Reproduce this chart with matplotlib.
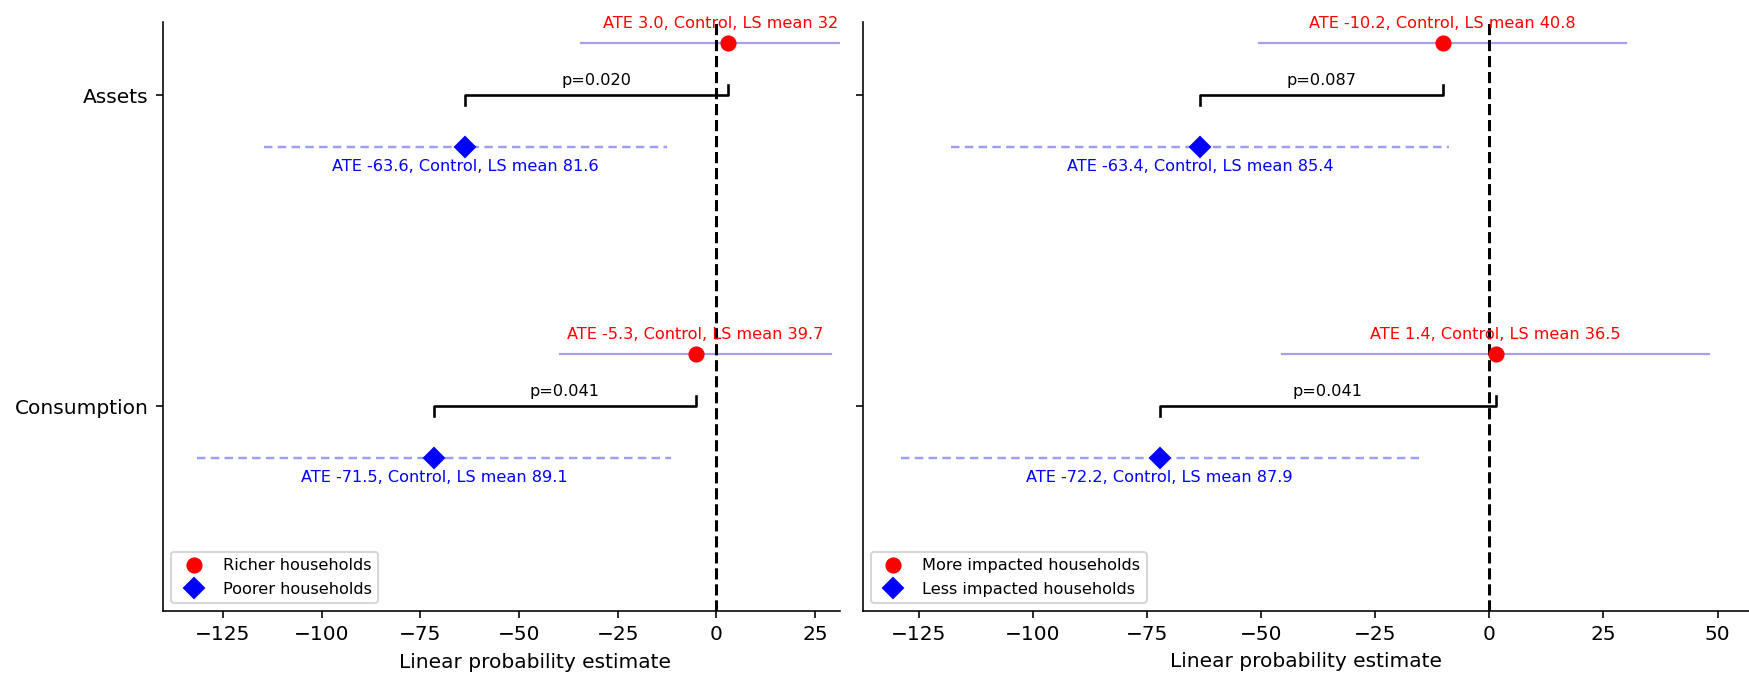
import matplotlib
matplotlib.use("Agg")
import matplotlib.pyplot as plt
from matplotlib.ticker import MultipleLocator
from matplotlib.transforms import Bbox, TransformedBbox

categories = ["Assets", "Consumption"]

# left panel: richer (red) vs poorer (blue)
rich_ate = [3.0, -5.3]
rich_ci = [37.4, 34.4]
rich_ctrl = [32.0, 39.7]
poor_ate = [-63.6, -71.5]
poor_ci = [51.0, 60.0]
poor_ctrl = [81.6, 89.1]
left_p = ["0.020", "0.041"]
left_labels = ["Richer households", "Poorer households"]

# right panel: more impacted (red) vs less impacted (blue)
more_ate = [-10.2, 1.4]
more_ci = [40.2, 46.8]
more_ctrl = [40.8, 36.5]
less_ate = [-63.4, -72.2]
less_ci = [54.6, 56.7]
less_ctrl = [85.4, 87.9]
right_p = ["0.087", "0.041"]
right_labels = ["More impacted households", "Less impacted households"]

cat_y = [1, 0]
off = 0.167


def draw_panel(ax, r_ate, r_ci, r_ctrl, b_ate, b_ci, b_ctrl, pvals, labels, clip=None):
    for i, y in enumerate(cat_y):
        yr = y + off
        yb = y - off
        ax.plot([r_ate[i] - r_ci[i], r_ate[i] + r_ci[i]], [yr, yr],
                color="#a99fec", lw=1.1, zorder=1)
        ax.plot([b_ate[i] - b_ci[i], b_ate[i] + b_ci[i]], [yb, yb],
                color="#9d9df2", lw=1.2, ls=(0, (3.5, 2.2)), zorder=1)
        ax.plot(r_ate[i], yr, "o", color="red", ms=7, zorder=3,
                label=labels[0] if i == 0 else None)
        ax.plot(b_ate[i], yb, "D", color="blue", ms=7, zorder=3,
                label=labels[1] if i == 0 else None)
        t1 = ax.text(r_ate[i], yr + 0.062, f"ATE {r_ate[i]:.1f}, Control, LS mean {r_ctrl[i]:.1f}",
                     color="red", fontsize=8, ha="center", va="center")
        t2 = ax.text(b_ate[i], yb - 0.062, f"ATE {b_ate[i]:.1f}, Control, LS mean {b_ctrl[i]:.1f}",
                     color="blue", fontsize=8, ha="center", va="center")
        if clip is not None:
            for t in (t1, t2):
                t.set_clip_box(clip)
                t.set_clip_on(True)
        # bracket with p-value
        h = 0.032
        ax.plot([b_ate[i], b_ate[i], r_ate[i], r_ate[i]], [y - h, y, y, y + h],
                color="black", lw=1.3, zorder=2)
        ax.text((b_ate[i] + r_ate[i]) / 2, y + 0.024, "p=" + pvals[i],
                fontsize=8, ha="center", va="bottom")
    ax.axvline(0, color="black", ls="--", lw=1.5, zorder=2)
    ax.set_yticks(cat_y)
    ax.set_ylim(-0.659, 1.235)
    ax.xaxis.set_major_locator(MultipleLocator(25))
    ax.set_xlabel("Linear probability estimate")
    ax.spines["top"].set_visible(False)
    ax.spines["right"].set_visible(False)
    ax.legend(loc="lower left", fontsize=8)


fig = plt.figure(figsize=(1749 / 145, 678 / 145), dpi=145)
x0, x1 = 163 / 1749, 840 / 1749
ax1 = fig.add_axes([x0, 0.0988, x1 - x0, 0.8688])
ax2 = fig.add_axes([862.6 / 1749, 0.0988, (1749 - 862.6) / 1749, 0.8688])

# text of the left panel is cut at the panel's right edge only
left_clip = TransformedBbox(Bbox([[x0, -1], [x1, 2]]), fig.transFigure)

draw_panel(ax1, rich_ate, rich_ci, rich_ctrl, poor_ate, poor_ci, poor_ctrl, left_p, left_labels,
           clip=left_clip)
draw_panel(ax2, more_ate, more_ci, more_ctrl, less_ate, less_ci, less_ctrl, right_p, right_labels)

ax1.set_yticklabels(categories)
ax2.set_yticklabels([])
ax1.set_xlim(-140.2, 31.3)
ax2.set_xlim(-137.3, 56.9)
ax1.xaxis.set_label_coords(0.549, -0.072)

fig.savefig("out.png", dpi=145)
